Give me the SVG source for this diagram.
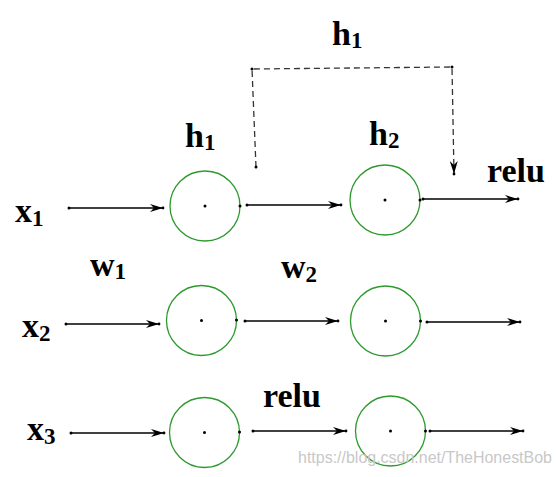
<svg xmlns="http://www.w3.org/2000/svg" width="558" height="477" viewBox="0 0 558 477">
<style>
.lbl{font-family:"Liberation Serif","Times New Roman",serif;font-weight:bold;font-size:34px;fill:#000}
.sub{font-size:23px}
.node{fill:none;stroke:#2e9a2e;stroke-width:1.3}
.dot{fill:#000}
.arr{stroke:#000;stroke-width:1.4;fill:none;marker-start:url(#st);marker-end:url(#ah)}
.dash{stroke:#333;stroke-width:1.3;fill:none;stroke-dasharray:6 4;marker-start:url(#st);marker-end:url(#ah)}
.wm{font-family:"Liberation Sans",Arial,sans-serif;font-size:17px;fill:#c8c8c8}
</style>
<defs>
<marker id="ah" viewBox="-14 -6 16 12" refX="0" refY="0" markerWidth="16" markerHeight="12" markerUnits="userSpaceOnUse" orient="auto">
<path d="M-13,-4 L0,0 L-13,4 L-9,0 Z" fill="#000"/>
<circle cx="0" cy="0" r="1.4" fill="#000"/>
</marker>
<marker id="st" viewBox="-3 -3 6 6" refX="0" refY="0" markerWidth="6" markerHeight="6" markerUnits="userSpaceOnUse">
<circle cx="0" cy="0" r="1.5" fill="#000"/>
</marker>
</defs>
<g id="connectors">
<path class="arr" d="M69,208 L163,208"/>
<path class="arr" d="M247,205 L341,205"/>
<path class="arr" d="M423,199 L518,199"/>
<path class="arr" d="M66,324 L159,324"/>
<path class="arr" d="M245,321 L338,321"/>
<path class="arr" d="M427,322 L520,322"/>
<path class="arr" d="M71,433 L164,433"/>
<path class="arr" d="M253,431 L346,431"/>
<path class="arr" d="M430,431 L523,431"/>
<path class="dash" d="M256,167 L252,69 L452,67 L454,174"/>
<circle class="dot" cx="252" cy="69" r="1.5"/>
<circle class="dot" cx="452" cy="67" r="1.5"/>
</g>
<g id="n11"><circle class="node" cx="205" cy="206" r="35"/><circle class="dot" cx="205" cy="206" r="1.5"/><circle class="dot" cx="240" cy="206" r="1.5"/></g>
<g id="n12"><circle class="node" cx="385" cy="200" r="35"/><circle class="dot" cx="385" cy="200" r="1.5"/><circle class="dot" cx="420" cy="200" r="1.5"/></g>
<g id="n21"><circle class="node" cx="201.5" cy="320.5" r="35"/><circle class="dot" cx="201.5" cy="320.5" r="1.5"/><circle class="dot" cx="236.5" cy="320" r="1.5"/></g>
<g id="n22"><circle class="node" cx="385.5" cy="321" r="35"/><circle class="dot" cx="385.5" cy="321" r="1.5"/><circle class="dot" cx="420.5" cy="321" r="1.5"/></g>
<g id="n31"><circle class="node" cx="204.5" cy="432.5" r="35"/><circle class="dot" cx="204.5" cy="432.5" r="1.5"/><circle class="dot" cx="239.5" cy="432" r="1.5"/></g>
<g id="n32"><circle class="node" cx="390.5" cy="431" r="35"/><circle class="dot" cx="390.5" cy="431" r="1.5"/><circle class="dot" cx="425.5" cy="431" r="1.5"/></g>
<g id="labels">
<text class="lbl" x="15" y="222">x<tspan class="sub" dy="4">1</tspan></text>
<text class="lbl" x="22" y="337">x<tspan class="sub" dy="4">2</tspan></text>
<text class="lbl" x="27" y="440">x<tspan class="sub" dy="4">3</tspan></text>
<text class="lbl" x="90" y="276">w<tspan class="sub" dy="3">1</tspan></text>
<text class="lbl" x="281" y="278">w<tspan class="sub" dy="4">2</tspan></text>
<text class="lbl" x="185" y="147">h<tspan class="sub" dy="3">1</tspan></text>
<text class="lbl" x="369" y="145">h<tspan class="sub" dy="3">2</tspan></text>
<text class="lbl" x="332" y="45">h<tspan class="sub" dy="3">1</tspan></text>
<text class="lbl" x="487" y="182">relu</text>
<text class="lbl" x="263" y="407">relu</text>
</g>
<text class="wm" x="298" y="463" textLength="254" lengthAdjust="spacingAndGlyphs">https://blog.csdn.net/TheHonestBob</text>
</svg>
